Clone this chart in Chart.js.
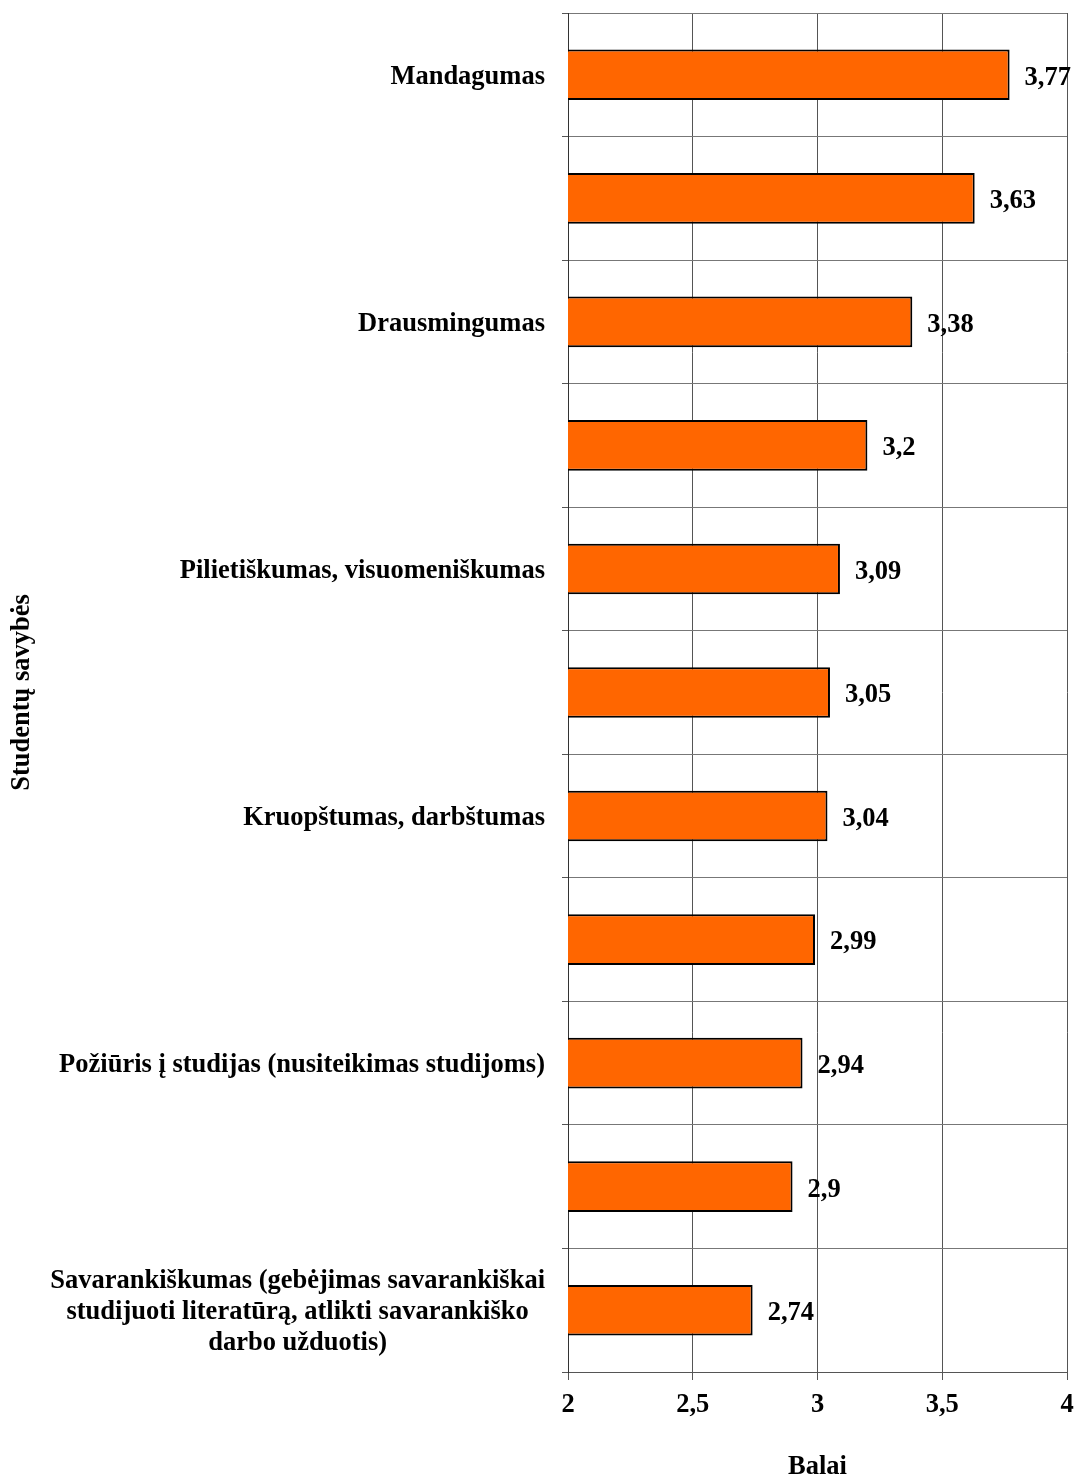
<!DOCTYPE html>
<html>
<head>
<meta charset="utf-8">
<script src="https://cdn.jsdelivr.net/npm/chart.js@4"></script>
<style>
  body { margin: 0; background: #fff; }
  #wrap { width: 1077px; height: 1483px; }
</style>
</head>
<body>
<div id="wrap"><canvas id="myChart"></canvas></div>
<script>
// categories (every other label is hidden in the original)
let categories = [
  'Mandagumas',
  '',
  'Drausmingumas',
  '',
  'Pilietiškumas, visuomeniškumas',
  '',
  'Kruopštumas, darbštumas',
  '',
  'Požiūris į studijas (nusiteikimas studijoms)',
  '',
  ['Savarankiškumas (gebėjimas savarankiškai', 'studijuoti literatūrą, atlikti savarankiško', 'darbo užduotis)'],
];
let values = [3.77, 3.63, 3.38, 3.2, 3.09, 3.05, 3.04, 2.99, 2.94, 2.9, 2.74];
let xTicks = [2, 2.5, 3, 3.5, 4];

const FONT = "'Liberation Serif', 'Times New Roman', serif";
const SIZE = 26.5;
const comma = (v) => String(v).replace('.', ',');

// value labels at the end of each bar
const valueLabels = {
  id: 'valueLabels',
  afterDatasetsDraw(chart) {
    let c = chart.ctx;
    let meta = chart.getDatasetMeta(0);
    c.save();
    c.font = 'bold ' + SIZE + 'px ' + FONT;
    c.fillStyle = '#000';
    c.textAlign = 'left';
    c.textBaseline = 'middle';
    meta.data.forEach((bar, i) => {
      c.fillText(comma(values[i]), bar.x + 15, bar.y + 3);
    });
    c.restore();
  },
};

// category labels, multi-line ones centred on their own block
const catLabels = {
  id: 'catLabels',
  afterDraw(chart) {
    let c = chart.ctx;
    let y = chart.scales.y;
    let right = y.right - 23;
    c.save();
    c.font = 'bold ' + SIZE + 'px ' + FONT;
    c.fillStyle = '#000';
    c.textAlign = 'center';
    c.textBaseline = 'middle';
    categories.forEach((lab, i) => {
      if (!lab) return;
      let lines = Array.isArray(lab) ? lab : [lab];
      let w = Math.max(...lines.map((l) => c.measureText(l).width));
      let cx = right - w / 2;
      let cy = y.getPixelForValue(i) + 2;
      let lh = 31;
      lines.forEach((l, k) => {
        c.fillText(l, cx, cy + (k - (lines.length - 1) / 2) * lh);
      });
    });
    c.restore();
  },
};

let ctx = document.getElementById('myChart').getContext('2d');
let myChart = new Chart(ctx, {
  type: 'bar',
  data: {
    labels: categories,
    datasets: [
      {
        data: values,
        backgroundColor: '#FF6600',
        borderColor: '#000',
        borderWidth: 2,
        borderSkipped: false,
        categoryPercentage: 1,
        barPercentage: 0.41,
      },
    ],
  },
  options: {
    indexAxis: 'y',
    responsive: true,
    maintainAspectRatio: false,
    animation: false,
    layout: { padding: { top: 13, right: 0, left: 0, bottom: 0 } },
    plugins: {
      legend: { display: false },
      tooltip: { enabled: false },
    },
    scales: {
      x: {
        min: 2,
        max: 4,
        afterBuildTicks: (axis) => {
          axis.ticks = xTicks.map((v) => ({ value: v }));
        },
        afterFit: (axis) => {
          axis.height = 111;
          axis.paddingLeft = 0;
          axis.paddingRight = 10;
        },
        grid: {
          color: '#555',
          lineWidth: 1,
          tickLength: 8,
          tickColor: '#555',
        },
        border: { color: '#555' },
        ticks: {
          padding: 9,
          color: '#000',
          font: { family: FONT, size: SIZE, weight: 'bold' },
          callback: (v) => comma(v),
        },
        title: {
          display: true,
          text: 'Balai',
          color: '#000',
          font: { family: FONT, size: SIZE, weight: 'bold' },
          padding: { top: 34, bottom: 0 },
        },
      },
      y: {
        afterFit: (axis) => {
          axis.width = 568;
          axis.paddingTop = 0;
          axis.paddingBottom = 0;
        },
        grid: {
          offset: true,
          color: '#777',
          lineWidth: 1,
          tickLength: 6,
          tickColor: '#555',
        },
        border: { color: '#333' },
        ticks: {
          display: true,
          color: 'rgba(0,0,0,0)',
          font: { family: FONT, size: SIZE, weight: 'bold' },
          callback: () => '',
        },
        title: {
          display: true,
          text: 'Studentų savybės',
          color: '#000',
          font: { family: FONT, size: SIZE, weight: 'bold' },
          padding: { top: 6, bottom: 0 },
        },
      },
    },
  },
  plugins: [valueLabels, catLabels],
});
</script>
</body>
</html>
